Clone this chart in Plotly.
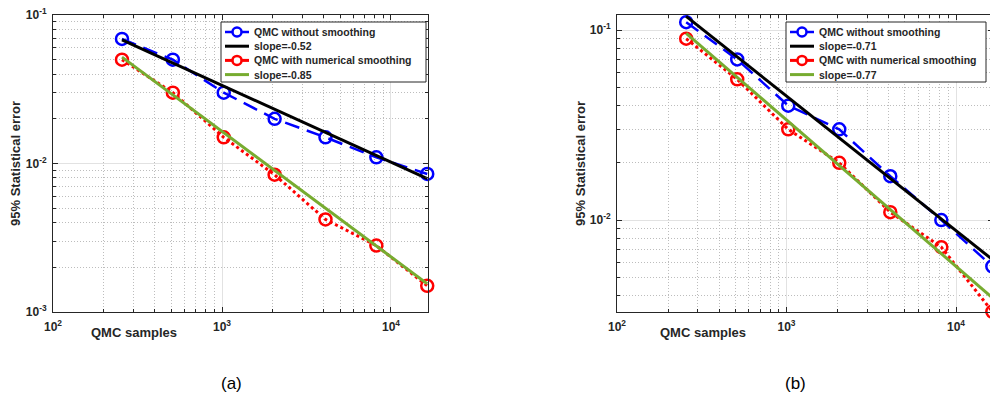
import plotly.graph_objects as go

# ---------------- data ----------------
samples = [256, 512, 1024, 2048, 4096, 8192, 16384]
fit_x = [256, 16384]

a_without = [0.069, 0.050, 0.030, 0.020, 0.015, 0.011, 0.0085]
a_with = [0.050, 0.030, 0.015, 0.0084, 0.0042, 0.0028, 0.0015]
a_fit_without = [0.068, 0.0079]
a_fit_with = [0.052, 0.00155]

b_without = [0.110, 0.070, 0.040, 0.030, 0.017, 0.010, 0.0057]
b_with = [0.090, 0.055, 0.030, 0.020, 0.011, 0.0072, 0.0033]
b_fit_without = [0.118, 0.0062]
b_fit_with = [0.096, 0.0039]

labels_a = ["QMC without smoothing", "slope=-0.52",
            "QMC with numerical smoothing", "slope=-0.85"]
labels_b = ["QMC without smoothing", "slope=-0.71",
            "QMC with numerical smoothing", "slope=-0.77"]

x_tick_vals = [100, 1000, 10000]
x_tick_text = ["10<sup>2</sup>", "10<sup>3</sup>", "10<sup>4</sup>"]
y_tick_vals = [0.001, 0.01, 0.1]
y_tick_text = ["10<sup>-3</sup>", "10<sup>-2</sup>", "10<sup>-1</sup>"]
x_minor = [m * 10 ** e for e in (2, 3) for m in range(2, 10)] + [20000]
y_minor = [m * 10.0 ** e for e in (-3, -2) for m in range(2, 10)]

x_title = "QMC samples"
y_title = "95% Statistical error"
captions = ["(a)", "(b)"]

# ---------------- styling ----------------
W, H = 993, 399          # page shows 990 px; right panel runs slightly past the edge
FONT = "Liberation Sans, Arial, sans-serif"
AX = "#262626"
BLUE, RED, BLACK, GREEN = "#0000FF", "#FF0000", "#000000", "#77AC30"
DASH_BLUE = "15px,8px"
DOT_RED = "3px,3px"


def px(x):
    return x / W


def py(y):
    return 1 - y / H


fig = go.Figure()


def add_panel(xa, ya, without, with_, fit_w, fit_s):
    fig.add_trace(go.Scatter(x=samples, y=without, mode="lines+markers",
                             xaxis=xa, yaxis=ya, cliponaxis=False,
                             line=dict(color=BLUE, width=2.5, dash=DASH_BLUE),
                             marker=dict(symbol="circle-open", size=12,
                                         color=BLUE, line=dict(width=2.5, color=BLUE)),
                             showlegend=False))
    fig.add_trace(go.Scatter(x=fit_x, y=fit_w, mode="lines",
                             xaxis=xa, yaxis=ya,
                             line=dict(color=BLACK, width=3), showlegend=False))
    fig.add_trace(go.Scatter(x=samples, y=with_, mode="lines+markers",
                             xaxis=xa, yaxis=ya, cliponaxis=False,
                             line=dict(color=RED, width=3, dash=DOT_RED),
                             marker=dict(symbol="circle-open", size=12,
                                         color=RED, line=dict(width=2.5, color=RED)),
                             showlegend=False))
    fig.add_trace(go.Scatter(x=fit_x, y=fit_s, mode="lines",
                             xaxis=xa, yaxis=ya,
                             line=dict(color=GREEN, width=3), showlegend=False))


add_panel("x", "y", a_without, a_with, a_fit_without, a_fit_with)
add_panel("x2", "y2", b_without, b_with, b_fit_without, b_fit_with)

tickfont = dict(family=FONT, size=12, color=AX, weight="bold")
MINOR_GRID = dict(ticks="inside", ticklen=3, tickcolor=AX, showgrid=True,
                  gridcolor="#bdbdbd", griddash="1px,2px", gridwidth=1)


def xaxis(domain, rng, anchor):
    return dict(type="log", domain=domain, range=rng, anchor=anchor, automargin=False,
                tickmode="array", tickvals=x_tick_vals, ticktext=x_tick_text,
                ticks="inside", ticklen=5, tickwidth=1, tickcolor=AX,
                showline=True, linecolor=AX, linewidth=1, mirror="ticks",
                showgrid=True, gridcolor="#e2e2e2", gridwidth=1, zeroline=False,
                tickfont=tickfont, ticklabelstandoff=4,
                minor=dict(tickmode="array", tickvals=x_minor, **MINOR_GRID))


def yaxis(domain, rng, anchor):
    return dict(type="log", domain=domain, range=rng, anchor=anchor, automargin=False,
                tickmode="array", tickvals=y_tick_vals, ticktext=y_tick_text,
                ticks="inside", ticklen=5, tickwidth=1, tickcolor=AX,
                showline=True, linecolor=AX, linewidth=1, mirror="ticks",
                showgrid=True, gridcolor="#e2e2e2", gridwidth=1, zeroline=False,
                tickfont=tickfont, ticklabelstandoff=3,
                minor=dict(tickmode="array", tickvals=y_minor, **MINOR_GRID))


ydom = [py(312), py(15)]
fig.update_layout(
    width=W, height=H, margin=dict(l=0, r=0, t=0, b=0, autoexpand=False),
    paper_bgcolor="white", plot_bgcolor="white", showlegend=False,
    xaxis=xaxis([px(53), px(428)], [2, 4.219], "y"),
    yaxis=yaxis(ydom, [-3, -1], "x"),
    xaxis2=xaxis([px(617), 1.0], [2, 2 + (W - 617) / 169.5], "y2"),
    yaxis2=yaxis(ydom, [-2.484, -0.921], "x2"),
)

annotations = []
shapes = []

# axis titles and captions
for cx, ycx in ((134, 15), (703, 580)):
    annotations.append(dict(text=x_title, x=px(cx), y=py(332), xref="paper", yref="paper",
                            showarrow=False, xanchor="center", yanchor="middle",
                            font=dict(family=FONT, size=13, color=AX, weight="bold")))
    annotations.append(dict(text=y_title, x=px(ycx), y=py(164), xref="paper", yref="paper",
                            showarrow=False, xanchor="center", yanchor="middle", textangle=-90,
                            font=dict(family=FONT, size=13, color=AX, weight="bold")))
for cap, cap_x in zip(captions, (231, 795)):
    annotations.append(dict(text=cap, x=px(cap_x), y=py(383), xref="paper", yref="paper",
                            showarrow=False, xanchor="center", yanchor="middle",
                            font=dict(family=FONT, size=17, color="#000000")))

# manual legends (MATLAB-style, compact rows)
styles = [(BLUE, 2.5, True), (BLACK, 3, False), (RED, 3, True), (GREEN, 3, False)]
for left, right, labels in ((221, 426, labels_a), (786, 986, labels_b)):
    shapes.append(dict(type="rect", xref="paper", yref="paper",
                       x0=px(left), x1=px(right), y0=py(82), y1=py(22),
                       line=dict(color=AX, width=1), fillcolor="white", layer="above"))
    for i, (lab, (col, lw, mk)) in enumerate(zip(labels, styles)):
        yy = 32 + 14.2 * i
        if mk:
            shapes.append(dict(type="line", xref="paper", yref="paper",
                               x0=px(left + 4), x1=px(left + 11), y0=py(yy), y1=py(yy),
                               line=dict(color=col, width=lw), layer="above"))
            shapes.append(dict(type="line", xref="paper", yref="paper",
                               x0=px(left + 21), x1=px(left + 28), y0=py(yy), y1=py(yy),
                               line=dict(color=col, width=lw), layer="above"))
            r = 4.5
            shapes.append(dict(type="circle", xref="paper", yref="paper",
                               x0=px(left + 16 - r), x1=px(left + 16 + r),
                               y0=py(yy + r), y1=py(yy - r),
                               line=dict(color=col, width=2.5), layer="above"))
        else:
            shapes.append(dict(type="line", xref="paper", yref="paper",
                               x0=px(left + 4), x1=px(left + 28), y0=py(yy), y1=py(yy),
                               line=dict(color=col, width=lw), layer="above"))
        annotations.append(dict(text=lab, x=px(left + 31), y=py(yy), xref="paper", yref="paper",
                                showarrow=False, xanchor="left", yanchor="middle",
                                font=dict(family=FONT, size=10.5, color=AX, weight="bold")))

fig.update_layout(annotations=annotations, shapes=shapes)
fig.write_html("out.html", config={"displayModeBar": False},
               post_script="document.body.style.margin='0';document.body.style.overflow='hidden';")
